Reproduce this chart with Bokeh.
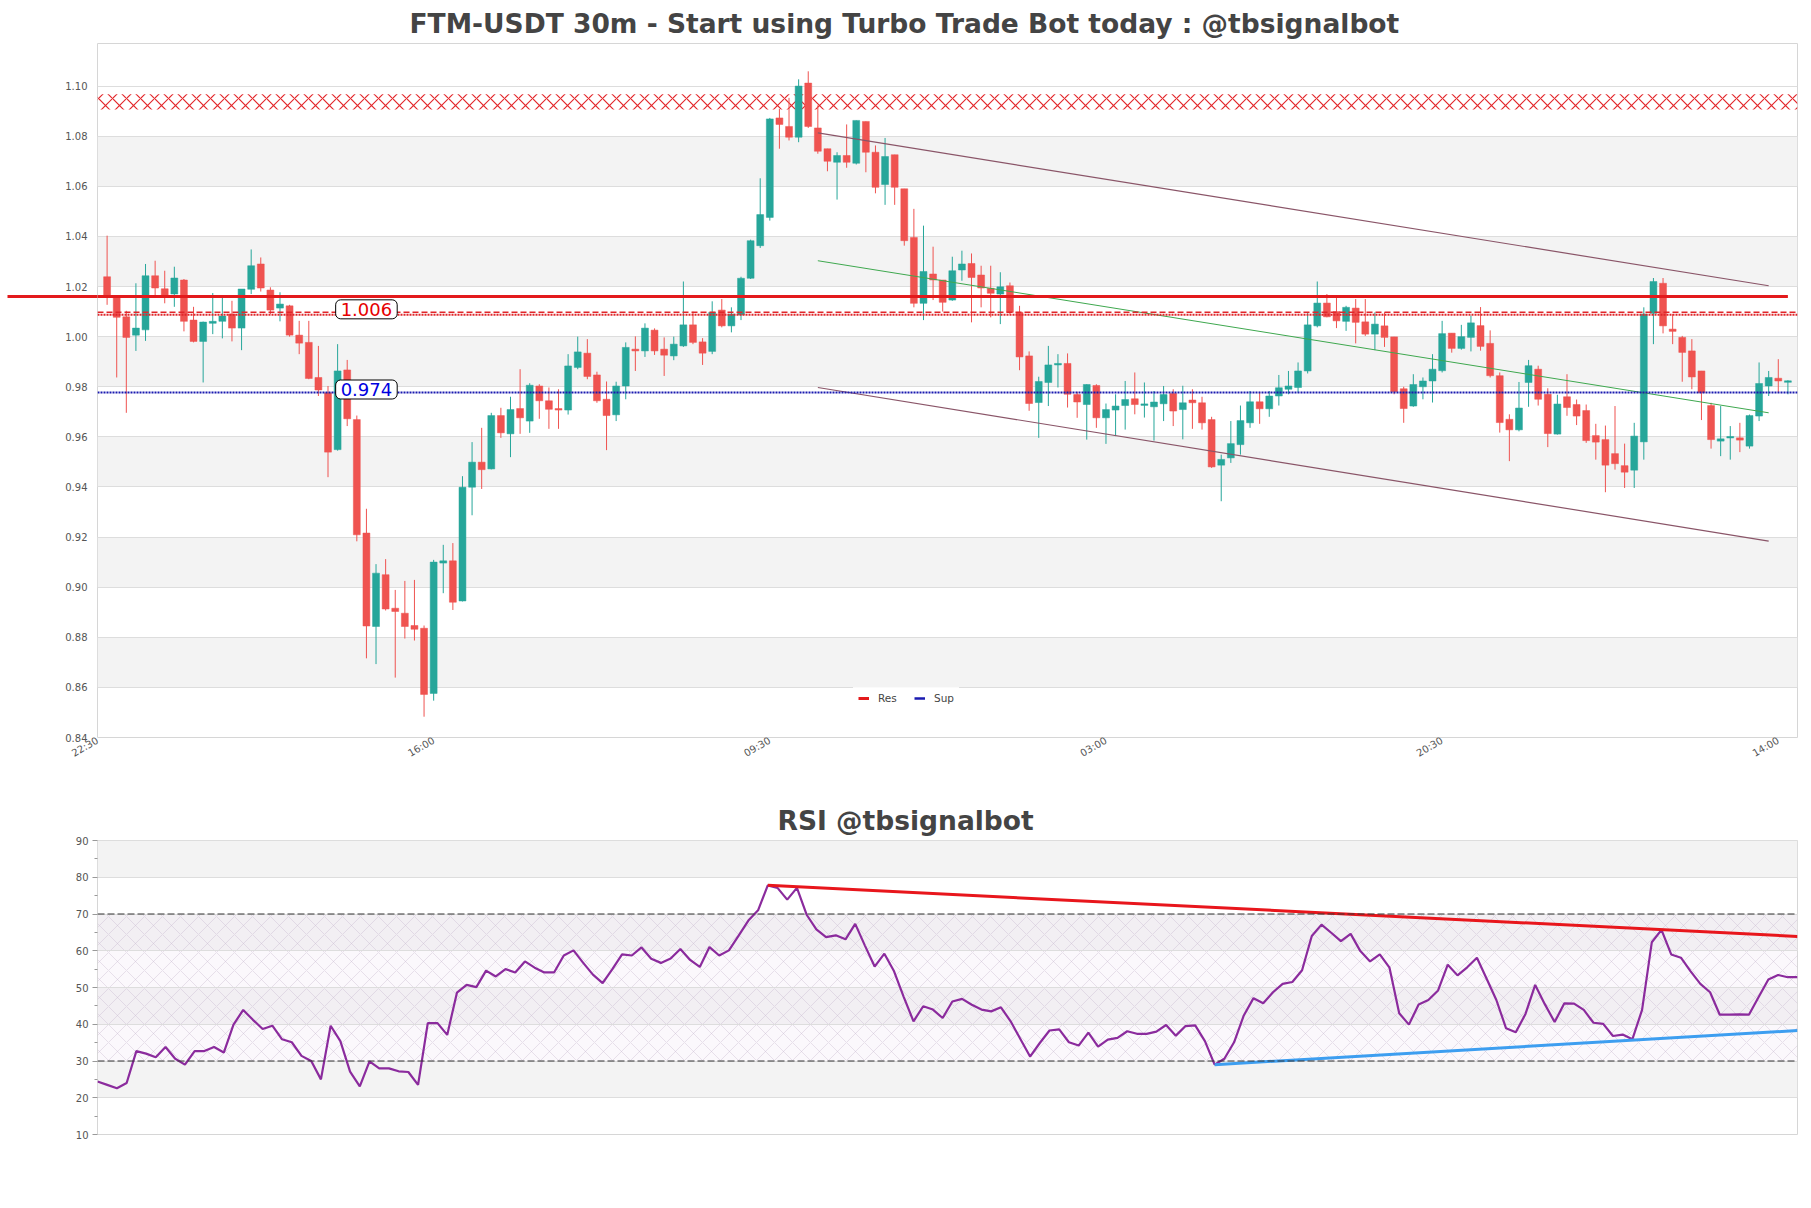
import math
from bokeh.plotting import figure
from bokeh.models import (ColumnDataSource, FixedTicker, Label, Legend, LegendItem,
                          Range1d, Span, NumeralTickFormatter)
from bokeh.layouts import column
from bokeh.embed import file_html
from bokeh.resources import INLINE

TITLE = "FTM-USDT 30m - Start using Turbo Trade Bot today : @tbsignalbot"
RSI_TITLE = "RSI @tbsignalbot"

opens = [1.0239, 1.0163, 1.0079, 1.0006, 1.0027, 1.0243, 1.0191, 1.0170, 1.0226, 1.0066,
         0.9981, 1.0053, 1.0061, 1.0090, 1.0034, 1.0189, 1.0290, 1.0186, 1.0114, 1.0123,
         1.0006, 0.9977, 0.9837, 0.9776, 0.9549, 0.9867, 0.9669, 0.9216, 0.8843, 0.9050,
         0.8916, 0.8896, 0.8847, 0.8836, 0.8576, 0.9096, 0.9105, 0.8945, 0.9399, 0.9499,
         0.9472, 0.9685, 0.9612, 0.9713, 0.9663, 0.9803, 0.9744, 0.9713, 0.9707, 0.9877,
         0.9934, 0.9847, 0.9750, 0.9688, 0.9803, 0.9950, 0.9943, 1.0026, 0.9950, 0.9923,
         0.9963, 1.0047, 0.9979, 0.9941, 1.0106, 1.0043, 1.0087, 1.0233, 1.0363, 1.0476,
         1.0873, 1.0839, 1.0796, 1.1012, 1.0833, 1.0750, 1.0696, 1.0723, 1.0692, 1.0859,
         1.0736, 1.0607, 1.0726, 1.0590, 1.0396, 1.0133, 1.0250, 1.0226, 1.0146, 1.0266,
         1.0292, 1.0246, 1.0193, 1.0170, 1.0203, 1.0097, 0.9923, 0.9737, 0.9817, 0.9887,
         0.9893, 0.9769, 0.9729, 0.9805, 0.9676, 0.9707, 0.9725, 0.9752, 0.9727, 0.9720,
         0.9732, 0.9773, 0.9709, 0.9747, 0.9736, 0.9669, 0.9487, 0.9516, 0.9569, 0.9656,
         0.9740, 0.9712, 0.9763, 0.9790, 0.9797, 0.9863, 1.0043, 1.0134, 1.0100, 1.0061,
         1.0114, 1.0059, 1.0010, 1.0043, 0.9999, 0.9792, 0.9723, 0.9800, 0.9823, 0.9864,
         1.0014, 0.9953, 0.9997, 1.0044, 0.9973, 0.9844, 0.9670, 0.9628, 0.9817, 0.9870,
         0.9770, 0.9611, 0.9760, 0.9729, 0.9705, 0.9605, 0.9589, 0.9533, 0.9485, 0.9467,
         0.9580, 1.0093, 1.0213, 1.0030, 0.9997, 0.9943, 0.9863, 0.9725, 0.9583, 0.9597,
         0.9596, 0.9563, 0.9683, 0.9803, 0.9834, 0.9818]
highs = [1.0403, 1.0165, 1.0103, 1.0213, 1.0290, 1.0303, 1.0263, 1.0279, 1.0230, 1.0119,
         1.0060, 1.0174, 1.0159, 1.0143, 1.0190, 1.0348, 1.0316, 1.0197, 1.0177, 1.0127,
         1.0063, 1.0063, 0.9963, 0.9803, 0.9970, 0.9907, 0.9685, 0.9313, 0.9092, 0.9112,
         0.8989, 0.9025, 0.9029, 0.8847, 0.9109, 0.9169, 0.9176, 0.9443, 0.9579, 0.9636,
         0.9696, 0.9716, 0.9760, 0.9870, 0.9814, 0.9810, 0.9797, 0.9790, 0.9930, 1.0000,
         0.9990, 0.9860, 0.9821, 0.9820, 0.9977, 1.0001, 1.0053, 1.0033, 0.9997, 1.0000,
         1.0220, 1.0100, 0.9994, 1.0141, 1.0150, 1.0117, 1.0239, 1.0387, 1.0632, 1.0873,
         1.0909, 1.0953, 1.1027, 1.1059, 1.0923, 1.0750, 1.0736, 1.0847, 1.0863, 1.0859,
         1.0763, 1.0793, 1.0726, 1.0590, 1.0510, 1.0443, 1.0359, 1.0226, 1.0319, 1.0343,
         1.0332, 1.0283, 1.0283, 1.0257, 1.0216, 1.0123, 0.9941, 0.9840, 0.9963, 0.9930,
         0.9933, 0.9780, 0.9810, 0.9810, 0.9733, 0.9770, 0.9823, 0.9857, 0.9817, 0.9783,
         0.9803, 0.9790, 0.9804, 0.9790, 0.9760, 0.9680, 0.9529, 0.9663, 0.9725, 0.9783,
         0.9780, 0.9783, 0.9847, 0.9863, 0.9897, 1.0097, 1.0220, 1.0170, 1.0154, 1.0123,
         1.0150, 1.0150, 1.0097, 1.0097, 0.9999, 0.9800, 0.9850, 0.9837, 0.9930, 1.0063,
         1.0014, 1.0047, 1.0084, 1.0118, 1.0025, 0.9857, 0.9690, 0.9819, 0.9907, 0.9884,
         0.9794, 0.9768, 0.9850, 0.9749, 0.9729, 0.9652, 0.9645, 0.9723, 0.9573, 0.9656,
         1.0117, 1.0234, 1.0234, 1.0090, 1.0003, 0.9990, 0.9863, 0.9736, 0.9723, 0.9643,
         0.9656, 0.9689, 0.9897, 0.9863, 0.9910, 0.9826]
lows = [1.0127, 0.9837, 0.9696, 0.9943, 0.9983, 1.0163, 1.0133, 1.0119, 1.0021, 0.9977,
        0.9817, 1.0010, 0.9993, 0.9981, 0.9946, 1.0170, 1.0180, 1.0090, 1.0061, 1.0000,
        0.9930, 0.9830, 0.9763, 0.9439, 0.9545, 0.9643, 0.9183, 0.8716, 0.8693, 0.8907,
        0.8639, 0.8795, 0.8787, 0.8483, 0.8547, 0.8976, 0.8909, 0.8943, 0.9287, 0.9392,
        0.9470, 0.9596, 0.9519, 0.9612, 0.9616, 0.9672, 0.9632, 0.9632, 0.9689, 0.9870,
        0.9830, 0.9736, 0.9547, 0.9663, 0.9750, 0.9863, 0.9919, 0.9927, 0.9843, 0.9906,
        0.9959, 0.9970, 0.9887, 0.9930, 1.0037, 1.0017, 1.0066, 1.0230, 1.0354, 1.0463,
        1.0750, 1.0783, 1.0776, 1.0833, 1.0730, 1.0660, 1.0547, 1.0674, 1.0687, 1.0656,
        1.0572, 1.0526, 1.0526, 1.0363, 1.0117, 1.0066, 1.0146, 1.0100, 1.0143, 1.0223,
        1.0057, 1.0117, 1.0077, 1.0050, 1.0090, 0.9866, 0.9704, 0.9596, 0.9723, 0.9797,
        0.9717, 0.9676, 0.9589, 0.9636, 0.9572, 0.9603, 0.9629, 0.9690, 0.9677, 0.9585,
        0.9663, 0.9643, 0.9590, 0.9632, 0.9629, 0.9476, 0.9343, 0.9496, 0.9529, 0.9636,
        0.9652, 0.9680, 0.9725, 0.9770, 0.9777, 0.9853, 1.0037, 1.0077, 1.0034, 1.0023,
        0.9973, 1.0003, 0.9946, 0.9959, 0.9770, 0.9656, 0.9720, 0.9750, 0.9737, 0.9857,
        0.9936, 0.9948, 0.9941, 0.9944, 0.9837, 0.9617, 0.9503, 0.9622, 0.9720, 0.9725,
        0.9559, 0.9609, 0.9684, 0.9647, 0.9576, 0.9509, 0.9379, 0.9469, 0.9396, 0.9396,
        0.9509, 0.9970, 1.0013, 0.9970, 0.9820, 0.9790, 0.9667, 0.9553, 0.9523, 0.9509,
        0.9539, 0.9553, 0.9663, 0.9763, 0.9777, 0.9770]
closes = [1.0159, 1.0077, 0.9997, 1.0034, 1.0243, 1.0194, 1.0160, 1.0234, 1.0061, 0.9981,
          1.0058, 1.0061, 1.0082, 1.0034, 1.0190, 1.0283, 1.0194, 1.0106, 1.0130, 1.0006,
          0.9974, 0.9833, 0.9787, 0.9539, 0.9863, 0.9672, 0.9209, 0.8845, 0.9056, 0.8913,
          0.8903, 0.8843, 0.8832, 0.8572, 0.9100, 0.9105, 0.8940, 0.9399, 0.9499, 0.9469,
          0.9685, 0.9616, 0.9709, 0.9676, 0.9806, 0.9744, 0.9710, 0.9707, 0.9883, 0.9939,
          0.9841, 0.9744, 0.9685, 0.9803, 0.9957, 0.9943, 1.0034, 0.9943, 0.9926, 0.9970,
          1.0047, 0.9977, 0.9934, 1.0097, 1.0043, 1.0090, 1.0233, 1.0383, 1.0487, 1.0869,
          1.0847, 1.0796, 1.1000, 1.0839, 1.0740, 1.0700, 1.0723, 1.0696, 1.0863, 1.0736,
          1.0596, 1.0719, 1.0596, 1.0383, 1.0133, 1.0260, 1.0226, 1.0137, 1.0263, 1.0290,
          1.0236, 1.0194, 1.0173, 1.0199, 1.0097, 0.9919, 0.9733, 0.9821, 0.9887, 0.9893,
          0.9770, 0.9739, 0.9809, 0.9676, 0.9709, 0.9723, 0.9749, 0.9729, 0.9730, 0.9739,
          0.9769, 0.9703, 0.9736, 0.9736, 0.9656, 0.9480, 0.9510, 0.9573, 0.9665, 0.9740,
          0.9712, 0.9763, 0.9796, 0.9803, 0.9863, 1.0047, 1.0134, 1.0079, 1.0063, 1.0117,
          1.0057, 1.0010, 1.0050, 0.9997, 0.9780, 0.9713, 0.9809, 0.9823, 0.9870, 1.0012,
          0.9953, 1.0000, 1.0055, 0.9961, 0.9844, 0.9657, 0.9628, 0.9715, 0.9884, 0.9750,
          0.9613, 0.9731, 0.9717, 0.9683, 0.9585, 0.9579, 0.9487, 0.9493, 0.9459, 0.9603,
          1.0090, 1.0220, 1.0043, 1.0021, 0.9937, 0.9839, 0.9776, 0.9589, 0.9592, 0.9600,
          0.9587, 0.9685, 0.9813, 0.9837, 0.9823, 0.9823]

rsi_values = [24.4, 23.5, 22.6, 24.0, 32.7, 32.0, 31.0, 33.8, 30.6, 29.0,
              32.7, 32.7, 33.8, 32.3, 39.9, 43.9, 41.2, 38.7, 39.6, 35.9,
              35.1, 31.4, 30.0, 25.0, 39.6, 35.4, 27.1, 23.1, 29.9, 28.0,
              28.0, 27.2, 27.0, 23.5, 40.3, 40.3, 37.1, 48.6, 50.7, 50.1,
              54.6, 53.0, 55.0, 54.1, 57.1, 55.4, 54.1, 54.1, 58.7, 60.1,
              56.7, 53.5, 51.2, 55.0, 59.0, 58.7, 60.9, 57.8, 56.7, 57.9,
              60.5, 57.5, 55.6, 61.0, 58.7, 60.1, 64.1, 68.2, 71.0, 77.8,
              77.1, 73.9, 77.1, 69.8, 65.8, 63.7, 64.2, 63.1, 67.3, 61.4,
              55.7, 59.2, 54.4, 47.4, 40.8, 44.9, 44.0, 41.7, 46.2, 46.9,
              45.3, 44.0, 43.5, 44.6, 40.8, 36.0, 31.2, 34.9, 38.3, 38.6,
              35.1, 34.2, 37.7, 33.9, 35.8, 36.3, 38.1, 37.4, 37.4, 38.0,
              39.8, 36.9, 39.5, 39.7, 35.4, 29.0, 30.6, 35.1, 42.4, 47.1,
              45.7, 48.7, 51.0, 51.5, 54.7, 64.0, 67.1, 64.9, 62.6, 64.6,
              59.9, 57.1, 59.0, 55.4, 43.0, 39.9, 45.4, 46.6, 49.2, 56.2,
              53.3, 55.5, 58.1, 52.4, 46.6, 38.9, 37.8, 42.8, 50.7, 45.4,
              40.6, 45.7, 45.6, 43.9, 40.4, 40.1, 36.8, 37.2, 35.9, 43.9,
              62.3, 65.7, 59.0, 58.1, 54.4, 51.0, 48.7, 42.6, 42.6, 42.7,
              42.6, 47.4, 52.2, 53.4, 52.8, 52.8]

time_tick_labels = ["22:30", "16:00", "09:30", "03:00", "20:30", "14:00"]
time_tick_index = [-1, 34, 69, 104, 139, 174]
price_ticks = [0.84, 0.86, 0.88, 0.90, 0.92, 0.94, 0.96, 0.98, 1.00, 1.02, 1.04, 1.06, 1.08, 1.10]
rsi_ticks = [10, 20, 30, 40, 50, 60, 70, 80, 90]
rsi_minor = [15, 25, 35, 45, 55, 65, 75, 85]

res_zone_bottom, res_zone_top = 1.0907, 1.0967
res_strong = 1.016
res_level = 1.0097
res_level_b = 1.0087
sup_level = 0.9777
res_text = "1.006"
sup_text = "0.974"

channel_x = [74, 173]
channel_upper = [1.0813, 1.0203]
channel_mid = [1.0303, 0.9696]
channel_lower = [0.9797, 0.9184]

rsi_res_x = [69, 175]
rsi_res_y = [77.8, 63.9]
rsi_sup_x = [115, 175]
rsi_sup_y = [29.0, 38.3]
rsi_overbought, rsi_oversold = 70, 30

FONT = "DejaVu Sans"
UP = "#26a69a"
DOWN = "#ef5350"
GRID = "#dddddd"
BAND = "#f3f3f3"
TXT = "#444444"
RED = "#e31a1c"
NAVY = "#1a1ab0"
OVERHANG = 90  # px the strong resistance line runs left of the frame

n = len(opens)
idx = list(range(n))
colors = [UP if c >= o else DOWN for o, c in zip(opens, closes)]
tops, bots = [], []
for o, c in zip(opens, closes):
    t, b = max(o, c), min(o, c)
    if t - b < 0.0006:
        mid = (t + b) / 2
        t, b = mid + 0.0003, mid - 0.0003
    tops.append(t)
    bots.append(b)

src = ColumnDataSource(dict(x=idx, high=highs, low=lows, top=tops, bottom=bots, color=colors))

p = figure(width=1811, height=790, x_range=Range1d(-1, n), y_range=Range1d(0.84, 1.117),
           output_backend="svg", toolbar_location=None,
           min_border_left=97, min_border_right=14, min_border_top=43, min_border_bottom=53)
p.background_fill_color = "white"
p.border_fill_color = "white"
p.outline_line_color = "#d6d6d6"

p.title.text = TITLE
p.title.align = "left"
p.title.offset = 312
p.title.standoff = 9
p.title.text_font = FONT
p.title.text_font_style = "bold"
p.title.text_font_size = "26.5px"
p.title.text_color = TXT

band_b = price_ticks[1:13:2]
band_t = [b + 0.02 for b in band_b]
p.quad(left=-1, right=n, bottom=band_b, top=band_t, fill_color=BAND, line_color=None, level="image")

p.xgrid.visible = False
p.ygrid.ticker = FixedTicker(ticks=price_ticks)
p.ygrid.grid_line_color = GRID

# resistance zone
p.quad(left=-1, right=n, bottom=[res_zone_bottom], top=[res_zone_top], fill_alpha=0,
       hatch_pattern="x", hatch_color="#e3262a", hatch_scale=14, hatch_weight=1.2,
       line_color=None)

p.add_layout(Span(location=res_level, dimension="width", line_color="#e0262a",
                  line_width=1.5, line_dash="6 3"))
p.add_layout(Span(location=res_level_b, dimension="width", line_color="#e0262a",
                  line_width=2, line_dash="2 1"))
p.add_layout(Span(location=sup_level, dimension="width", line_color=NAVY,
                  line_width=2.2, line_dash="2 1"))

p.segment(x0="x", y0="low", x1="x", y1="high", line_color="color", line_width=1, source=src)
p.vbar(x="x", width=0.72, top="top", bottom="bottom", fill_color="color",
       line_color="color", line_width=0.5, source=src)

p.line(channel_x, channel_upper, line_color="#8a5568", line_width=1.2)
p.line(channel_x, channel_lower, line_color="#8a5568", line_width=1.2)
p.line(channel_x, channel_mid, line_color="#3fa84f", line_width=1)

# strong resistance line (inside frame) ...
r_res = p.line(x=[-1, n - 1], y=[res_strong, res_strong], line_color=RED, line_width=3)
# ... legend sample for support (single point: draws no line itself)
r_sup = p.line(x=[-1], y=[sup_level], line_color=NAVY, line_width=2.5)

legend = Legend(items=[LegendItem(label="Res", renderers=[r_res]),
                       LegendItem(label="Sup", renderers=[r_sup])],
                orientation="horizontal", location=(756, 28),
                label_text_font=FONT, label_text_font_size="10.5px",
                glyph_width=11, glyph_height=8, spacing=16, padding=5, margin=0,
                label_standoff=9, background_fill_alpha=0.85, border_line_alpha=0)
p.add_layout(legend)

for txt, lvl, col in [(res_text, res_level, "#e60000"), (sup_text, sup_level, "#0000e0")]:
    p.add_layout(Label(x=27, y=lvl, y_offset=3, text=txt, text_align="center",
                       text_baseline="middle",
                       text_font=FONT, text_font_size="18px", text_color=col,
                       background_fill_color="white", border_line_color="black",
                       border_line_width=1, border_radius=5, padding=(5, 3)))

# y axis; the strong resistance line continues left of the frame as a long red tick
p.yaxis.ticker = FixedTicker(ticks=price_ticks, minor_ticks=[res_strong])
p.yaxis.formatter = NumeralTickFormatter(format="0.00")
p.yaxis.major_tick_line_color = None
p.yaxis.major_tick_out = 0
p.yaxis.major_tick_in = 0
p.yaxis.minor_tick_line_color = RED
p.yaxis.minor_tick_line_width = 3
p.yaxis.minor_tick_out = OVERHANG
p.yaxis.minor_tick_in = 0
p.yaxis.axis_line_color = None
p.yaxis.major_label_standoff = 10 - OVERHANG
p.yaxis.major_label_text_font = FONT
p.yaxis.major_label_text_font_size = "10px"
p.yaxis.major_label_text_color = "#555555"

p.xaxis.ticker = FixedTicker(ticks=time_tick_index)
p.xaxis.major_label_overrides = {k: v for k, v in zip(time_tick_index, time_tick_labels)}
p.xaxis.major_label_orientation = math.pi / 6
p.xaxis.major_tick_line_color = None
p.xaxis.major_tick_out = 0
p.xaxis.minor_tick_line_color = None
p.xaxis.axis_line_color = None
p.xaxis.major_label_standoff = 2
p.xaxis.major_label_text_font = FONT
p.xaxis.major_label_text_font_size = "10px"
p.xaxis.major_label_text_color = "#555555"

# ---------------- RSI -----------------
m = len(rsi_values)
q = figure(width=1811, height=400, x_range=Range1d(0, m - 1), y_range=Range1d(10, 90),
           output_backend="svg", toolbar_location=None,
           min_border_left=97, min_border_right=14, min_border_top=50, min_border_bottom=56)
q.background_fill_color = "white"
q.border_fill_color = "white"
q.outline_line_color = "#d6d6d6"
q.xaxis.visible = False
q.xgrid.visible = False
q.ygrid.ticker = FixedTicker(ticks=rsi_ticks)
q.ygrid.grid_line_color = GRID

q.title.text = RSI_TITLE
q.title.align = "left"
q.title.offset = 680
q.title.standoff = 9
q.title.text_font = FONT
q.title.text_font_style = "bold"
q.title.text_font_size = "26.5px"
q.title.text_color = TXT

rb = rsi_ticks[1::2]
q.quad(left=0, right=m - 1, bottom=rb, top=[b + 10 for b in rb], fill_color=BAND,
       line_color=None, level="image")
q.quad(left=0, right=m - 1, bottom=[rsi_oversold], top=[rsi_overbought],
       fill_color="#f1e8f5", fill_alpha=0.3, hatch_pattern="x", hatch_color="#c4b6cc",
       hatch_alpha=0.55, hatch_scale=18, hatch_weight=0.7, line_color=None, level="image")

for lv in (rsi_overbought, rsi_oversold):
    q.add_layout(Span(location=lv, dimension="width", line_color="#333333",
                      line_width=1.1, line_dash="7 3"))

q.line(list(range(m)), rsi_values, line_color="#8b2b9d", line_width=2.2)
q.line(rsi_res_x, rsi_res_y, line_color="#e8161c", line_width=3)
q.line(rsi_sup_x, rsi_sup_y, line_color="#3d9ef0", line_width=3)

q.yaxis.ticker = FixedTicker(ticks=rsi_ticks, minor_ticks=rsi_minor)
q.yaxis.major_tick_out = 5
q.yaxis.major_tick_in = 0
q.yaxis.minor_tick_out = 3
q.yaxis.minor_tick_in = 0
q.yaxis.major_tick_line_color = "#999999"
q.yaxis.minor_tick_line_color = "#999999"
q.yaxis.axis_line_color = None
q.yaxis.major_label_standoff = 4
q.yaxis.major_label_text_font = FONT
q.yaxis.major_label_text_font_size = "10px"
q.yaxis.major_label_text_color = "#555555"

layout = column(p, q, spacing=0)
open("out.html", "w").write(file_html(layout, INLINE))
